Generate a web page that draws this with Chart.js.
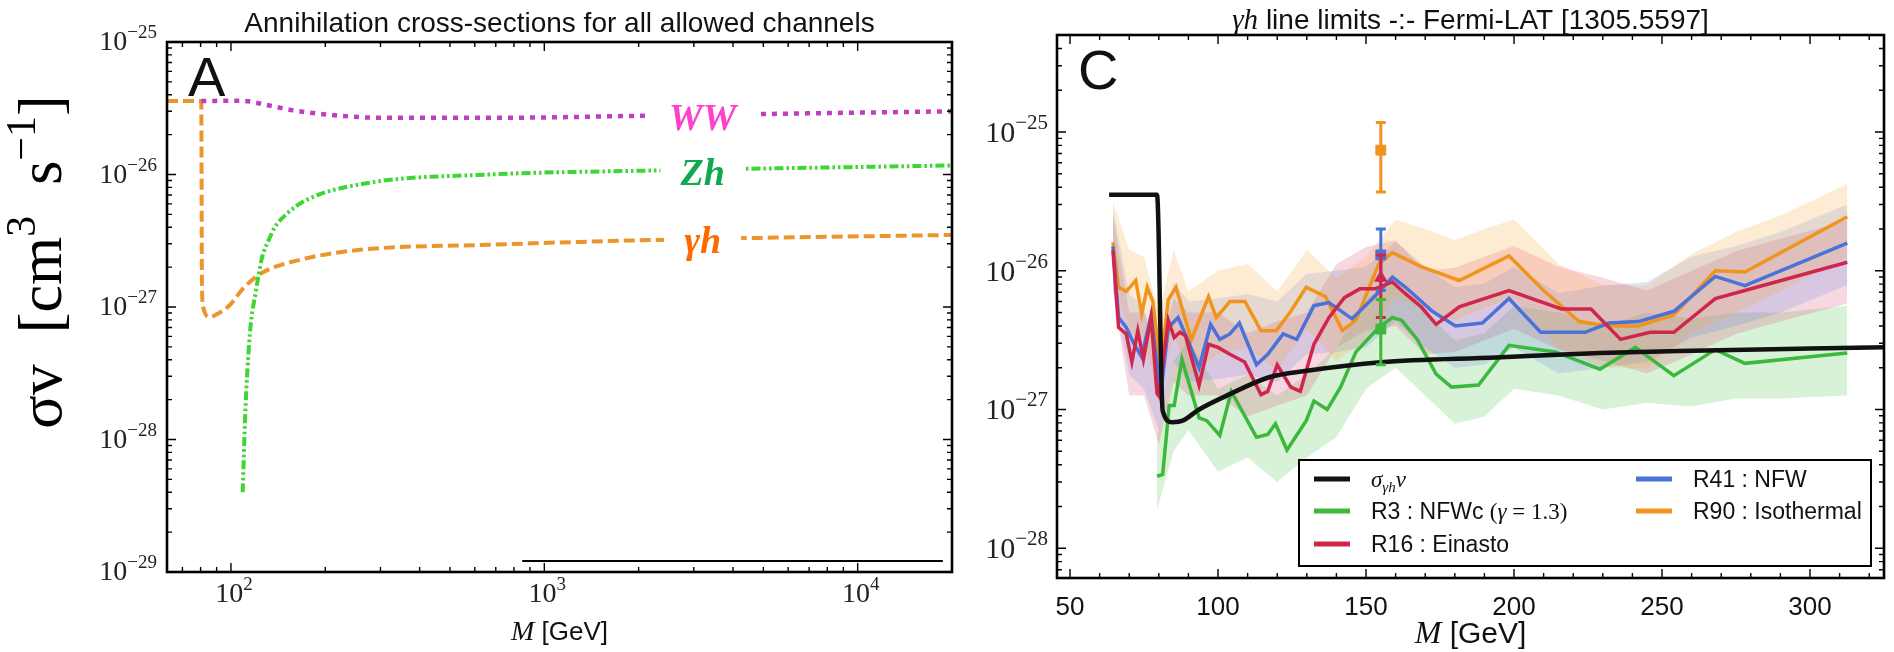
<!DOCTYPE html>
<html>
<head>
<meta charset="utf-8">
<script src="https://cdn.jsdelivr.net/npm/chart.js@4.4.1/dist/chart.umd.min.js"></script>
<style>
html, body { margin: 0; padding: 0; background: #fff; }
#wrapA { position: absolute; left: 0; top: 0; width: 960px; height: 652px; }
#wrapC { position: absolute; left: 960px; top: 0; width: 934px; height: 652px; }
</style>
</head>
<body>
<div id="wrapA"><canvas id="chartA" width="960" height="652"></canvas></div>
<div id="wrapC"><canvas id="chartC" width="934" height="652"></canvas></div>
<script>
// ---- Panel A : cross-sections vs mass (log-log) ----
var massWW = [80.4, 108, 130, 155, 214, 300, 720, 2150, 20000];
var sigmaWW = [3.59e-26, 3.6e-26, 3.35e-26, 3.07e-26, 2.8e-26, 2.68e-26, 2.68e-26, 2.78e-26, 3.0e-26];

var massZh = [109, 111, 115, 120, 125.6, 132, 138, 150, 173.5, 271, 670, 2170, 20000];
var sigmaZh = [4.0e-29, 1.5e-28, 6.4e-28, 1.3e-27, 2.35e-27, 3.2e-27, 4.0e-27, 5.0e-27, 6.4e-27, 8.6e-27, 1.0e-26, 1.07e-26, 1.17e-26];

var massGh = [62.5, 80.4, 80.8, 81.5, 83, 85.7, 90, 99, 110, 125, 166, 258, 670, 2150, 20000];
var sigmaGh = [3.59e-26, 3.59e-26, 1.5e-27, 1.0e-27, 8.8e-28, 8.4e-28, 8.8e-28, 1.03e-27, 1.4e-27, 1.8e-27, 2.27e-27, 2.7e-27, 2.95e-27, 3.2e-27, 3.5e-27];

var massBase = [850, 18700];
var sigmaBase = [1.21e-29, 1.21e-29];

var xTicksA = [100, 1000, 10000];
var yTicksA = [1e-29, 1e-28, 1e-27, 1e-26, 1e-25];
var channelNames = ['WW', 'Zh', 'γh'];

// ---- Panel C : gamma-h line limits (linear mass) ----
var massTheory = [63.2, 79.4, 81.3, 84.5, 88, 93.6, 104, 117, 130, 155, 194, 229, 260, 300, 330];
var sigmaTheory = [3.53e-26, 3.53e-26, 9.8e-28, 8.1e-28, 8.3e-28, 1.0e-27, 1.29e-27, 1.7e-27, 1.9e-27, 2.19e-27, 2.37e-27, 2.55e-27, 2.65e-27, 2.75e-27, 2.82e-27];

var massR3 = [79.4, 81.3, 82.6, 83.5, 85.2, 87.8, 93.6, 96.2, 100.6, 104.5, 113, 116.8, 119.4, 123.3, 129.8, 132.4, 136.9, 141.4, 146.6, 154.3, 158.9, 162, 167.3, 173.7, 178.9, 188, 198.3, 214, 229, 241, 254, 268, 278, 312.6];
var sigmaR3 = [3.3e-28, 3.4e-28, 6.6e-28, 1.07e-27, 1.07e-27, 2.3e-27, 8.7e-28, 8.3e-28, 6.5e-28, 1.35e-27, 6.3e-28, 6.6e-28, 7.9e-28, 5.1e-28, 8.3e-28, 1.15e-27, 1.0e-27, 1.45e-27, 2.6e-27, 3.9e-27, 4.6e-27, 4.4e-27, 3.2e-27, 1.8e-27, 1.45e-27, 1.5e-27, 2.9e-27, 2.6e-27, 1.95e-27, 2.8e-27, 1.75e-27, 2.7e-27, 2.15e-27, 2.55e-27];

var massR16 = [64.5, 66.4, 69, 70.9, 72.9, 74.8, 77.4, 79.4, 80, 83.2, 85.2, 87.1, 89, 93.6, 96.8, 100, 104, 109, 114.5, 116.8, 120, 124.6, 127.8, 132.4, 137.5, 142.7, 147.9, 153, 158.9, 163.4, 168.6, 173.7, 181.5, 198.3, 216, 226, 236, 246, 254, 268, 278, 312.6];
var sigmaR16 = [1.4e-26, 3.9e-27, 3.5e-27, 2.2e-27, 3.7e-27, 2.3e-27, 4.6e-27, 1.3e-27, 1.25e-27, 4.4e-27, 3.3e-27, 3.6e-27, 3.4e-27, 1.5e-27, 2.95e-27, 2.8e-27, 2.5e-27, 2.2e-27, 1.28e-27, 1.35e-27, 2.1e-27, 1.45e-27, 1.35e-27, 2.95e-27, 4.6e-27, 6.4e-27, 7.4e-27, 7.4e-27, 8.3e-27, 6.8e-27, 5.5e-27, 4.1e-27, 5.5e-27, 7.2e-27, 5.3e-27, 5.3e-27, 3.2e-27, 3.6e-27, 3.6e-27, 6.3e-27, 7.2e-27, 1.15e-26];

var massR41 = [64.5, 66.4, 69, 71.5, 74.2, 77.4, 80.6, 83.2, 86.5, 89.7, 93.6, 97.5, 100.6, 104, 107.2, 113, 116.8, 122, 126.6, 132.4, 137.5, 145.3, 154.3, 158.9, 163.4, 172.4, 180.2, 189.3, 198.3, 209, 224, 232, 242, 254, 268, 278, 312.6];
var sigmaR41 = [1.5e-26, 4.6e-27, 3.9e-27, 3.0e-27, 2.4e-27, 4.8e-27, 1.28e-27, 3.9e-27, 4.6e-27, 3.2e-27, 2.0e-27, 4.1e-27, 3.2e-27, 3.5e-27, 4.2e-27, 2.1e-27, 2.5e-27, 3.5e-27, 3.2e-27, 5.6e-27, 5.9e-27, 4.5e-27, 7.0e-27, 9.0e-27, 7.6e-27, 5.1e-27, 4.0e-27, 4.2e-27, 6.3e-27, 3.6e-27, 3.6e-27, 4.2e-27, 4.3e-27, 5.1e-27, 9.1e-27, 7.8e-27, 1.58e-26];

var massR90 = [64.5, 66.4, 69, 72.2, 74.2, 76.1, 78, 80.6, 83.2, 85.8, 88.4, 91, 96.8, 99.4, 104, 109.1, 114.5, 119.7, 124.6, 129.8, 136.3, 142, 146.6, 154.3, 158.9, 168.6, 181.5, 198.3, 210, 222, 232, 242, 254, 268, 278, 312.6];
var sigmaR90 = [1.6e-26, 7.6e-27, 7.1e-27, 8.5e-27, 4.9e-27, 7.6e-27, 6.0e-27, 2.0e-27, 6.2e-27, 7.6e-27, 4.9e-27, 3.2e-27, 6.5e-27, 4.6e-27, 6.0e-27, 6.0e-27, 3.7e-27, 3.7e-27, 5.1e-27, 7.6e-27, 6.5e-27, 3.7e-27, 4.4e-27, 1.12e-26, 1.35e-26, 1.07e-26, 8.5e-27, 1.28e-26, 7.2e-27, 4.3e-27, 4.0e-27, 4.0e-27, 4.8e-27, 1.0e-26, 9.8e-27, 2.45e-26];

// uncertainty bands (coarser mass grid)
var massBand = [64.5, 70, 75, 80, 85, 90, 100, 110, 120, 130, 140, 150, 160, 170, 180, 190, 200, 215, 230, 245, 260, 275, 290, 312.6];
var bandR90Low = [8.9e-27, 3.55e-27, 3.16e-27, 1.26e-27, 3.55e-27, 1.78e-27, 2.5e-27, 2.8e-27, 1.9e-27, 3.8e-27, 2.24e-27, 3.16e-27, 6.6e-27, 5.2e-27, 4.4e-27, 5.4e-27, 6.3e-27, 2.8e-27, 2.0e-27, 2.0e-27, 3.55e-27, 5.0e-27, 7.1e-27, 1.26e-26];
var bandR90High = [3.16e-26, 1.41e-26, 1.26e-26, 5.0e-27, 1.41e-26, 7.1e-27, 1.0e-26, 1.12e-26, 7.1e-27, 1.41e-26, 8.9e-27, 1.26e-26, 2.34e-26, 2.0e-26, 1.66e-26, 2.0e-26, 2.34e-26, 1.12e-26, 7.9e-27, 7.9e-27, 1.32e-26, 1.9e-26, 2.5e-26, 4.2e-26];
var bandR16Low = [7.1e-27, 1.26e-27, 1.26e-27, 5.6e-28, 1.58e-27, 1.26e-27, 1.26e-27, 8.9e-28, 1.07e-27, 1.26e-27, 2.8e-27, 3.7e-27, 4.0e-27, 2.5e-27, 2.6e-27, 3.16e-27, 3.8e-27, 2.7e-27, 2.24e-27, 1.82e-27, 2.5e-27, 3.5e-27, 4.3e-27, 5.8e-27];
var bandR16High = [2.5e-26, 5.0e-27, 5.0e-27, 2.5e-27, 6.3e-27, 5.0e-27, 5.0e-27, 3.55e-27, 4.3e-27, 5.0e-27, 1.12e-26, 1.48e-26, 1.66e-26, 1.0e-26, 1.05e-26, 1.26e-26, 1.51e-26, 1.07e-26, 8.9e-27, 7.2e-27, 1.0e-26, 1.38e-26, 1.7e-26, 2.3e-26];
var bandR41Low = [7.4e-27, 1.78e-27, 1.41e-27, 7.1e-28, 2.2e-27, 1.58e-27, 1.66e-27, 1.78e-27, 1.58e-27, 2.5e-27, 2.6e-27, 2.8e-27, 4.3e-27, 2.8e-27, 2.0e-27, 2.1e-27, 2.8e-27, 1.82e-27, 2.0e-27, 2.2e-27, 3.3e-27, 4.0e-27, 5.0e-27, 7.9e-27];
var bandR41High = [2.8e-26, 6.8e-27, 5.4e-27, 2.7e-27, 8.3e-27, 6.0e-27, 6.3e-27, 6.8e-27, 6.0e-27, 9.5e-27, 1.0e-26, 1.07e-26, 1.62e-26, 1.07e-26, 7.6e-27, 8.1e-27, 1.07e-26, 6.9e-27, 7.8e-27, 8.3e-27, 1.26e-26, 1.51e-26, 1.9e-26, 3.0e-26];
var massBandR3 = [79.4, 85, 90, 100, 110, 120, 130, 140, 150, 160, 170, 180, 190, 200, 215, 230, 245, 260, 275, 290, 312.6];
var bandR3Low = [1.9e-28, 5.0e-28, 7.1e-28, 3.55e-28, 4.5e-28, 3.0e-28, 4.5e-28, 6.3e-28, 1.41e-27, 2.0e-27, 1.26e-27, 7.9e-28, 8.9e-28, 1.41e-27, 1.26e-27, 1.0e-27, 1.12e-27, 1.05e-27, 1.2e-27, 1.2e-27, 1.26e-27];
var bandR3High = [6.3e-28, 2.24e-27, 3.16e-27, 1.41e-27, 1.78e-27, 1.26e-27, 1.78e-27, 2.8e-27, 6.3e-27, 8.9e-27, 5.0e-27, 3.16e-27, 3.55e-27, 5.6e-27, 5.0e-27, 4.0e-27, 5.0e-27, 4.5e-27, 5.0e-27, 5.0e-27, 5.6e-27];

// best-fit points with error bars at 155 GeV (R90, R41, R16, R3)
var fitMass = [155, 155, 155, 155];
var fitSigma = [7.4e-26, 1.3e-26, 8.9e-27, 3.8e-27];
var fitLow = [3.7e-26, 7.2e-27, 4.6e-27, 2.1e-27];
var fitHigh = [1.17e-25, 2.0e-26, 1.3e-26, 6.2e-27];

var xTicksC = [50, 100, 150, 200, 250, 300];
var yTicksC = [1e-28, 1e-27, 1e-26, 1e-25];
var legendNames = ['σγhv', 'R3 : NFWc', 'R16 : Einasto', 'R41 : NFW', 'R90 : Isothermal'];

// colours
var cBlack = '#111111', cGreen = '#3cb83c', cRed = '#d0264c', cBlue = '#4a72d8', cOrange = '#f0941e';
var SANS = '"Liberation Sans", Arial, sans-serif';
var SERIF = '"Liberation Serif", "Times New Roman", serif';

function pts(xs, ys) {
    return xs.map(function (x, i) { return { x: x, y: ys[i] }; });
}

// draw text made of several runs with different fonts
function drawRuns(ctx, runs, x, y, align) {
    var total = 0;
    runs.forEach(function (r) { ctx.font = r.font; r.w = ctx.measureText(r.t).width; total += r.w; });
    var cx = x;
    if (align === 'center') cx = x - total / 2;
    if (align === 'right') cx = x - total;
    ctx.textAlign = 'left';
    ctx.textBaseline = 'alphabetic';
    runs.forEach(function (r) { ctx.font = r.font; ctx.fillText(r.t, cx, y + (r.dy || 0)); cx += r.w; });
}

// "10^n" labels for log axes, placed from the scale's own tick positions
function powerRuns(v, big, small, raise) {
    var e = Math.round(Math.log10(v));
    var es = e < 0 ? '\u2212' + (-e) : String(e);
    return [
        { t: '10', font: big + 'px ' + SERIF },
        { t: es, font: small + 'px ' + SERIF, dy: -raise }
    ];
}
function drawPowerTicks(chart, axis, o) {
    var ctx = chart.ctx, a = chart.chartArea, s = chart.scales[axis];
    ctx.save();
    ctx.fillStyle = '#222';
    s.ticks.forEach(function (t) {
        var p = s.getPixelForValue(t.value);
        var runs = powerRuns(t.value, o.big, o.small, o.raise);
        if (axis === 'y') drawRuns(ctx, runs, a.left - o.pad, p + o.shift, 'right');
        else drawRuns(ctx, runs, p + o.shift, a.bottom + o.pad, 'center');
    });
    ctx.restore();
}

// frame plus inward ticks on all four sides
function drawFrame(chart, xMajor, xMinor, yMajor, yMinor) {
    var ctx = chart.ctx, a = chart.chartArea, sx = chart.scales.x, sy = chart.scales.y;
    ctx.save();
    ctx.strokeStyle = '#000';
    ctx.lineWidth = 1.4;
    function tickX(v, len) {
        var p = sx.getPixelForValue(v);
        if (p < a.left + 1 || p > a.right - 1) return;
        ctx.beginPath();
        ctx.moveTo(p, a.bottom); ctx.lineTo(p, a.bottom - len);
        ctx.moveTo(p, a.top); ctx.lineTo(p, a.top + len);
        ctx.stroke();
    }
    function tickY(v, len) {
        var p = sy.getPixelForValue(v);
        if (p < a.top + 1 || p > a.bottom - 1) return;
        ctx.beginPath();
        ctx.moveTo(a.left, p); ctx.lineTo(a.left + len, p);
        ctx.moveTo(a.right, p); ctx.lineTo(a.right - len, p);
        ctx.stroke();
    }
    xMajor.forEach(function (v) { tickX(v, 9); });
    xMinor.forEach(function (v) { tickX(v, 5); });
    yMajor.forEach(function (v) { tickY(v, 9); });
    yMinor.forEach(function (v) { tickY(v, 5); });
    ctx.lineWidth = 2.6;
    ctx.strokeRect(a.left, a.top, a.right - a.left, a.bottom - a.top);
    ctx.restore();
}

function logMinors(lo, hi) {
    var out = [];
    for (var e = lo; e <= hi; e++) {
        for (var k = 2; k <= 9; k++) out.push(k * Math.pow(10, e));
    }
    return out;
}

// ---------------- Panel A ----------------
var labelPos = { mass: 3200, sigma: [2.17e-26, 8.3e-27, 2.56e-27], colors: ['#ff40cc', '#10a850', '#ff6a00'] };

var panelAPlugin = {
    id: 'panelA',
    afterDatasetsDraw: function (chart) {
        var ctx = chart.ctx, sx = chart.scales.x, sy = chart.scales.y;
        ctx.save();
        ctx.font = 'italic bold 38px ' + SERIF;
        ctx.textAlign = 'center';
        ctx.textBaseline = 'alphabetic';
        channelNames.forEach(function (name, i) {
            var x = sx.getPixelForValue(labelPos.mass);
            var y = sy.getPixelForValue(labelPos.sigma[i]);
            var w = ctx.measureText(name).width;
            ctx.fillStyle = '#fff';
            ctx.fillRect(x - w / 2 - 20, y - 34, w + 40, 44);
            ctx.fillStyle = labelPos.colors[i];
            ctx.fillText(name, x, y);
        });
        ctx.restore();
    },
    afterDraw: function (chart) {
        var ctx = chart.ctx, a = chart.chartArea;
        drawFrame(chart, xTicksA, [70, 80, 90, 200, 300, 400, 500, 600, 700, 800, 900, 2000, 3000, 4000, 5000, 6000, 7000, 8000, 9000], yTicksA, logMinors(-29, -26));
        drawPowerTicks(chart, 'y', { big: 28, small: 19, raise: 12, pad: 10, shift: 8 });
        drawPowerTicks(chart, 'x', { big: 28, small: 19, raise: 12, pad: 30, shift: 3 });
        ctx.save();
        ctx.fillStyle = '#111';
        ctx.font = '28px ' + SANS;
        ctx.textAlign = 'center';
        ctx.fillText('Annihilation cross-sections for all allowed channels', (a.left + a.right) / 2, 32);
        ctx.font = '56px ' + SANS;
        ctx.textAlign = 'left';
        ctx.fillText('A', a.left + 21, a.top + 54);
        drawRuns(ctx, [
            { t: 'M', font: 'italic 28px ' + SERIF },
            { t: ' [GeV]', font: '26px ' + SANS }
        ], (a.left + a.right) / 2, 640, 'center');
        // big rotated axis label
        ctx.translate(61, 262);
        ctx.rotate(-Math.PI / 2);
        ctx.fillStyle = '#000';
        drawRuns(ctx, [
            { t: 'σv  [cm', font: '62px ' + SERIF },
            { t: '3', font: '42px ' + SERIF, dy: -26 },
            { t: '  s', font: '62px ' + SERIF },
            { t: '\u22121', font: '42px ' + SERIF, dy: -26 },
            { t: ']', font: '62px ' + SERIF }
        ], 0, 0, 'center');
        ctx.restore();
    }
};

new Chart(document.getElementById('chartA'), {
    type: 'line',
    data: {
        datasets: [
            { label: 'WW', data: pts(massWW, sigmaWW), borderColor: '#c03cc0', borderWidth: 4.5, borderDash: [5, 6], cubicInterpolationMode: 'monotone' },
            { label: 'Zh', data: pts(massZh, sigmaZh), borderColor: '#3dd633', borderWidth: 4, borderDash: [9, 3, 2.5, 3, 2.5, 3], cubicInterpolationMode: 'monotone' },
            { label: 'γh', data: pts(massGh, sigmaGh), borderColor: '#eb962c', borderWidth: 4, borderDash: [11, 5], cubicInterpolationMode: 'monotone' },
            { label: 'base', data: pts(massBase, sigmaBase), borderColor: '#000', borderWidth: 2 }
        ]
    },
    options: {
        responsive: false,
        animation: false,
        devicePixelRatio: 1,
        layout: { padding: { top: 42, right: 8, left: 0, bottom: 0 } },
        elements: { point: { radius: 0 }, line: { fill: false } },
        plugins: { legend: { display: false }, tooltip: { enabled: false } },
        scales: {
            x: {
                type: 'logarithmic', min: 62.5, max: 20000,
                grid: { display: false }, border: { display: false },
                afterBuildTicks: function (s) { s.ticks = xTicksA.map(function (v) { return { value: v }; }); },
                afterFit: function (s) { s.height = 80; },
                ticks: { display: false }
            },
            y: {
                type: 'logarithmic', min: 1e-29, max: 1e-25,
                grid: { display: false }, border: { display: false },
                afterBuildTicks: function (s) { s.ticks = yTicksA.map(function (v) { return { value: v }; }); },
                afterFit: function (s) { s.width = 167; },
                ticks: { display: false }
            }
        }
    },
    plugins: [panelAPlugin]
});

// ---------------- Panel C ----------------
var fitStyle = [
    { color: cOrange, shape: 'rect' },
    { color: cBlue, shape: 'rect' },
    { color: cRed, shape: 'triangle' },
    { color: cGreen, shape: 'rect' }
];

var panelCPlugin = {
    id: 'panelC',
    afterDatasetsDraw: function (chart) {
        var ctx = chart.ctx, a = chart.chartArea, sx = chart.scales.x, sy = chart.scales.y;
        ctx.save();
        // error bars
        fitMass.forEach(function (m, i) {
            var x = sx.getPixelForValue(m);
            var y0 = sy.getPixelForValue(fitLow[i]);
            var y1 = sy.getPixelForValue(fitHigh[i]);
            ctx.strokeStyle = fitStyle[i].color;
            ctx.lineWidth = 3;
            ctx.beginPath();
            ctx.moveTo(x, y0); ctx.lineTo(x, y1);
            ctx.moveTo(x - 5, y0); ctx.lineTo(x + 5, y0);
            ctx.moveTo(x - 5, y1); ctx.lineTo(x + 5, y1);
            ctx.stroke();
        });
        // legend
        var bx = a.right - 585, by = a.bottom - 118, bw = 572, bh = 106;
        ctx.fillStyle = '#fff';
        ctx.fillRect(bx, by, bw, bh);
        ctx.strokeStyle = '#000';
        ctx.lineWidth = 2;
        ctx.strokeRect(bx, by, bw, bh);
        var rows = [19, 51, 84];
        var entries = [
            { col: 0, row: 0, color: cBlack, runs: [
                { t: 'σ', font: 'italic 23px ' + SERIF },
                { t: 'γh', font: 'italic 15px ' + SERIF, dy: 5 },
                { t: 'v', font: 'italic 23px ' + SERIF }] },
            { col: 0, row: 1, color: cGreen, runs: [
                { t: legendNames[1] + ' ', font: '23px ' + SANS },
                { t: '(', font: '23px ' + SERIF },
                { t: 'γ', font: 'italic 23px ' + SERIF },
                { t: ' = 1.3)', font: '23px ' + SERIF }] },
            { col: 0, row: 2, color: cRed, runs: [{ t: legendNames[2], font: '23px ' + SANS }] },
            { col: 1, row: 0, color: cBlue, runs: [{ t: legendNames[3], font: '23px ' + SANS }] },
            { col: 1, row: 1, color: cOrange, runs: [{ t: legendNames[4], font: '23px ' + SANS }] }
        ];
        entries.forEach(function (e) {
            var lx = bx + (e.col === 0 ? 15 : 337);
            var ly = by + rows[e.row];
            ctx.strokeStyle = e.color;
            ctx.lineWidth = 5;
            ctx.beginPath();
            ctx.moveTo(lx, ly); ctx.lineTo(lx + 36, ly);
            ctx.stroke();
            ctx.fillStyle = '#111';
            drawRuns(ctx, e.runs, lx + 57, ly + 8, 'left');
        });
        ctx.restore();
    },
    afterDraw: function (chart) {
        var ctx = chart.ctx, a = chart.chartArea;
        var minorX = [];
        for (var m = 60; m <= 320; m += 10) if (m % 50 !== 0) minorX.push(m);
        drawFrame(chart, xTicksC, minorX, yTicksC, logMinors(-29, -25));
        drawPowerTicks(chart, 'y', { big: 30, small: 21, raise: 13, pad: 9, shift: 10 });
        ctx.save();
        ctx.fillStyle = '#111';
        drawRuns(ctx, [
            { t: 'γh', font: 'italic 29px ' + SERIF },
            { t: ' line limits -:- Fermi-LAT [1305.5597]', font: '28px ' + SANS }
        ], (a.left + a.right) / 2, 29, 'center');
        ctx.font = '56px ' + SANS;
        ctx.textAlign = 'left';
        ctx.fillText('C', a.left + 21, a.top + 54);
        drawRuns(ctx, [
            { t: 'M', font: 'italic 32px ' + SERIF },
            { t: ' [GeV]', font: '30px ' + SANS }
        ], (a.left + a.right) / 2, 643, 'center');
        ctx.restore();
    }
};

function band(xs, lo, hi, color) {
    return [
        { label: 'lo', data: pts(xs, lo), borderWidth: 0, backgroundColor: color, fill: '+1', order: 3 },
        { label: 'hi', data: pts(xs, hi), borderWidth: 0, fill: false, order: 3 }
    ];
}

var datasetsC = []
    .concat(band(massBand, bandR90Low, bandR90High, 'rgba(250,165,60,0.22)'))
    .concat(band(massBand, bandR41Low, bandR41High, 'rgba(90,130,225,0.2)'))
    .concat(band(massBand, bandR16Low, bandR16High, 'rgba(215,60,100,0.2)'))
    .concat(band(massBandR3, bandR3Low, bandR3High, 'rgba(100,205,100,0.25)'))
    .concat([
        { label: 'theory', data: pts(massTheory, sigmaTheory), borderColor: cBlack, borderWidth: 4.5, cubicInterpolationMode: 'monotone', order: 1 },
        { label: 'R3', data: pts(massR3, sigmaR3), borderColor: cGreen, borderWidth: 3.5, order: 1 },
        { label: 'R16', data: pts(massR16, sigmaR16), borderColor: cRed, borderWidth: 3.5, order: 1 },
        { label: 'R41', data: pts(massR41, sigmaR41), borderColor: cBlue, borderWidth: 3.5, order: 1 },
        { label: 'R90', data: pts(massR90, sigmaR90), borderColor: cOrange, borderWidth: 3.5, order: 1 }
    ]);
fitMass.forEach(function (m, i) {
    datasetsC.push({
        label: 'fit' + i, data: [{ x: m, y: fitSigma[i] }], showLine: false, order: 0,
        pointStyle: fitStyle[i].shape, pointRadius: 7, pointBackgroundColor: fitStyle[i].color, pointBorderColor: fitStyle[i].color, pointBorderWidth: 1
    });
});

new Chart(document.getElementById('chartC'), {
    type: 'line',
    data: { datasets: datasetsC },
    options: {
        responsive: false,
        animation: false,
        devicePixelRatio: 1,
        layout: { padding: { top: 35, right: 10, left: 0, bottom: 0 } },
        elements: { point: { radius: 0 }, line: { fill: false, tension: 0 } },
        plugins: { legend: { display: false }, tooltip: { enabled: false } },
        scales: {
            x: {
                type: 'linear', min: 45.6, max: 325,
                grid: { display: false }, border: { display: false },
                afterBuildTicks: function (s) { s.ticks = xTicksC.map(function (v) { return { value: v }; }); },
                afterFit: function (s) { s.height = 74; },
                ticks: { font: { family: SANS, size: 26 }, color: '#111', padding: 6, maxRotation: 0, autoSkip: false }
            },
            y: {
                type: 'logarithmic', min: 6.1e-29, max: 5e-25,
                grid: { display: false }, border: { display: false },
                afterBuildTicks: function (s) { s.ticks = yTicksC.map(function (v) { return { value: v }; }); },
                afterFit: function (s) { s.width = 97; },
                ticks: { display: false }
            }
        }
    },
    plugins: [panelCPlugin]
});
</script>
</body>
</html>
